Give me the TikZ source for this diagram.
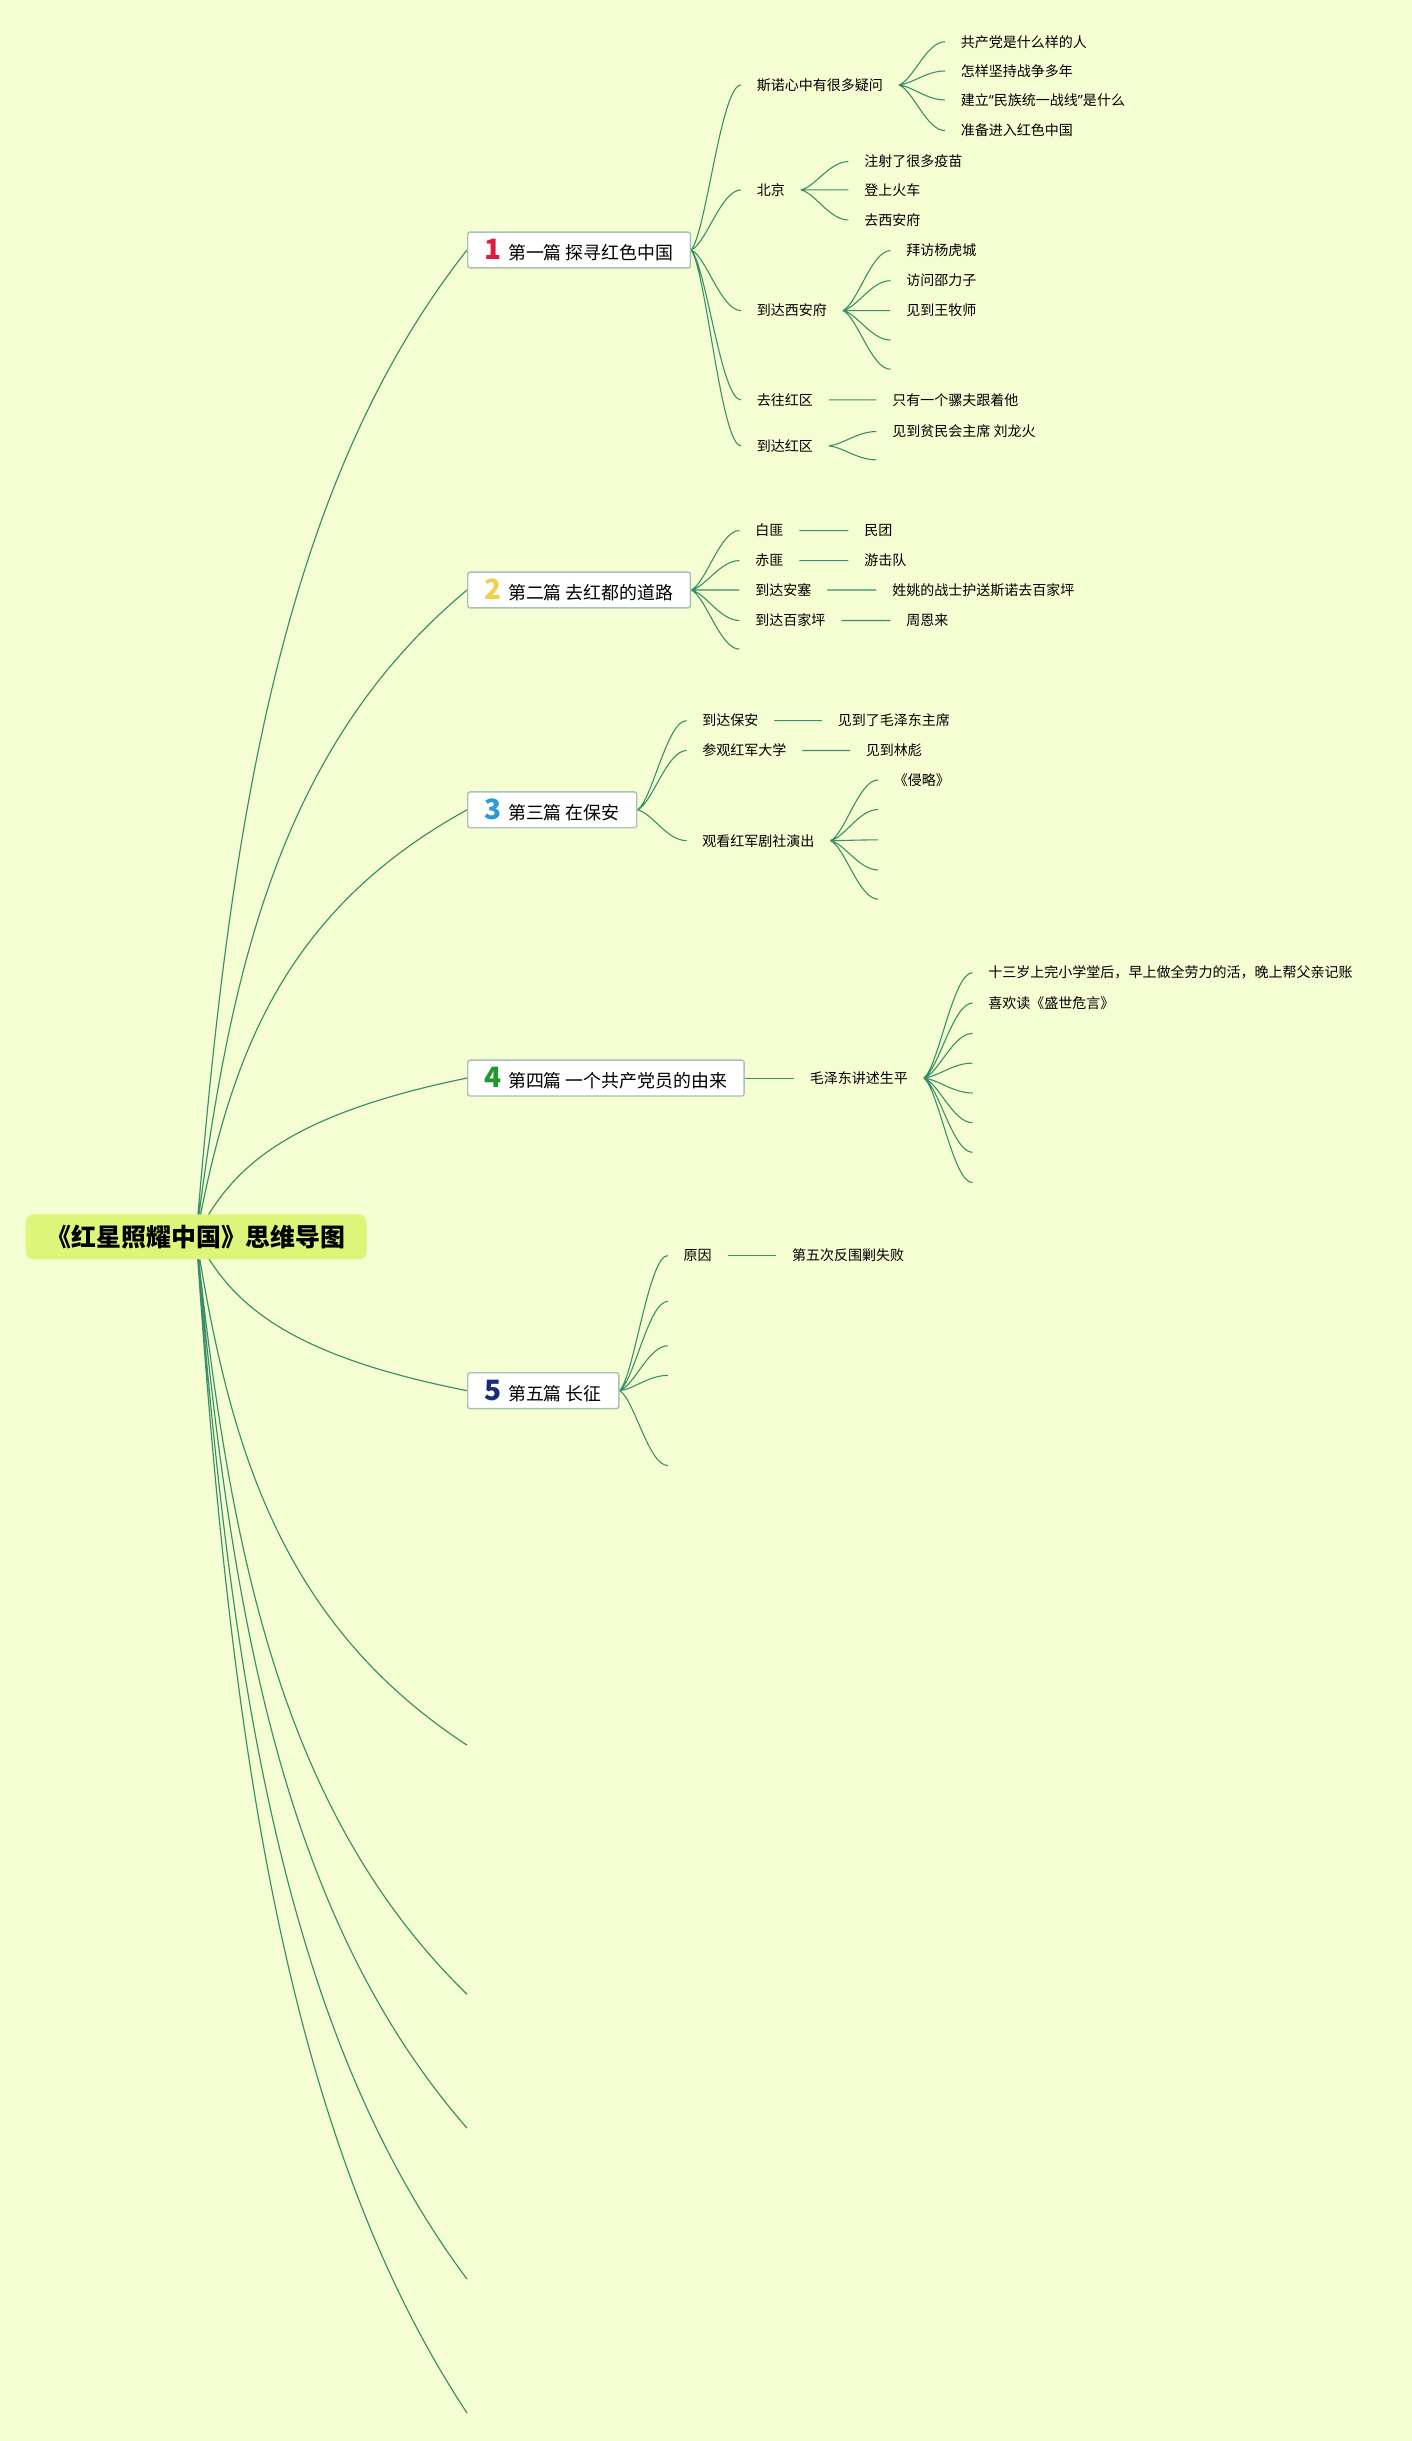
\documentclass[tikz,border=0pt]{standalone}
\usepackage{fontspec}
\setmainfont{Noto Sans CJK SC}
\newfontfamily\latinfont{Noto Sans}
\usetikzlibrary{calc}
\usetikzlibrary{backgrounds}

\begin{document}
\begin{tikzpicture}[line cap=round,line join=round,x=1pt,y=-1pt,
  trunk/.style={draw=3a8f68,line width=0.75pt,to path={let \p1=(\tikztostart),\p2=(\tikztotarget) in .. controls ({0.88*\x1+0.12*\x2},{0.6*\y1+0.4*\y2}) and ({0.7*\x1+0.3*\x2},{0.244*\y1+0.756*\y2}) .. (\p2)}},
  twig/.style={draw=3a8f68,line width=0.7pt,to path={let \p1=(\tikztostart),\p2=(\tikztotarget) in .. controls ({0.7*\x1+0.3*\x2},{0.9*\y1+0.1*\y2}) and ({0.4*\x1+0.6*\x2},\y2) .. (\p2)}},
  title/.style={fill=ddf578,rounded corners=5pt,minimum width=219pt,minimum height=29pt,inner sep=0pt,font=\fontsize{16}{16}\selectfont\bfseries},
  chap/.style={draw=a3c4b6,fill=white,line width=0.9pt,rounded corners=1.5pt,anchor=west,minimum height=23pt,inner xsep=11pt,inner ysep=0pt,font=\fontsize{11.5}{11.5}\selectfont},
  leaf/.style={anchor=west,inner xsep=10pt,inner ysep=2pt,font=\fontsize{9}{9}\selectfont}]
\definecolor{f5fdd2}{rgb}{0.961,0.992,0.824}
\definecolor{ddf578}{rgb}{0.867,0.961,0.471}
\definecolor{3a8f68}{rgb}{0.227,0.561,0.408}
\definecolor{a3c4b6}{rgb}{0.639,0.769,0.714}
\definecolor{dc1e3c}{rgb}{0.863,0.118,0.235}
\definecolor{f2d04a}{rgb}{0.949,0.816,0.29}
\definecolor{2a9ad8}{rgb}{0.165,0.604,0.847}
\definecolor{1c9a2c}{rgb}{0.11,0.604,0.173}
\definecolor{1c2a7c}{rgb}{0.11,0.165,0.486}
\clip(0,0) rectangle (907,1568);
\node[title] (root) at (126,794.5) {《红星照耀中国》思维导图};
\node[chap] (c1) at (300,160.6) {\textcolor{dc1e3c}{\fontsize{18}{18}\selectfont\bfseries 1}\hspace{4pt}第一篇 探寻红色中国};
\node[chap] (c2) at (300,379) {\textcolor{f2d04a}{\fontsize{18}{18}\selectfont\bfseries 2}\hspace{4pt}第二篇 去红都的道路};
\node[chap] (c3) at (300,520.2) {\textcolor{2a9ad8}{\fontsize{18}{18}\selectfont\bfseries 3}\hspace{4pt}第三篇 在保安};
\node[chap] (c4) at (300,692.5) {\textcolor{1c9a2c}{\fontsize{18}{18}\selectfont\bfseries 4}\hspace{4pt}第四篇 一个共产党员的由来};
\node[chap] (c5) at (300,893.3) {\textcolor{1c2a7c}{\fontsize{18}{18}\selectfont\bfseries 5}\hspace{4pt}第五篇 长征};
\coordinate (e6) at (300,1121);
\coordinate (e7) at (300,1281);
\coordinate (e8) at (300,1367);
\coordinate (e9) at (300,1464);
\coordinate (e10) at (300,1550);
\node[leaf] (s11) at (476,54.6) {斯诺心中有很多疑问};
\node[leaf] (s12) at (476,122) {北京};
\node[leaf] (s13) at (476,199.5) {到达西安府};
\node[leaf] (s14) at (476,256.9) {去往红区};
\node[leaf] (s15) at (476,286.4) {到达红区};
\node[leaf] (l111) at (607,26.8) {共产党是什么样的人};
\node[leaf] (l112) at (607,45.6) {怎样坚持战争多年};
\node[leaf] (l113) at (607,64.2) {建立{\latinfont “}民族统一战线{\latinfont ”}是什么};
\node[leaf] (l114) at (607,83.9) {准备进入红色中国};
\node[leaf] (l121) at (545,103.8) {注射了很多疫苗};
\node[leaf] (l122) at (545,122) {登上火车};
\node[leaf] (l123) at (545,141.3) {去西安府};
\node[leaf] (l131) at (572,161) {拜访杨虎城};
\node[leaf] (l132) at (572,180.3) {访问邵力子};
\node[leaf] (l133) at (572,199.5) {见到王牧师};
\coordinate (e134) at (572,218.4);
\coordinate (e135) at (572,237.2);
\node[leaf] (l141) at (563,256.9) {只有一个骡夫跟着他};
\node[leaf] (l151) at (563,277.2) {见到贫民会主席 刘龙火};
\coordinate (e152) at (563,295.4);
\node[leaf] (s21) at (475,340.8) {白匪};
\node[leaf] (s22) at (475,360.1) {赤匪};
\node[leaf] (s23) at (475,379) {到达安塞};
\node[leaf] (s24) at (475,398.6) {到达百家坪};
\coordinate (e25) at (475,417);
\node[leaf] (l211) at (545,340.8) {民团};
\node[leaf] (l221) at (545,360.1) {游击队};
\node[leaf] (l231) at (563,379) {姓姚的战士护送斯诺去百家坪};
\node[leaf] (l241) at (572,398.6) {周恩来};
\node[leaf] (s31) at (441,462.9) {到达保安};
\node[leaf] (s32) at (441,482.1) {参观红军大学};
\node[leaf] (s33) at (441,540) {观看红军剧社演出};
\node[leaf] (l311) at (528,462.9) {见到了毛泽东主席};
\node[leaf] (l321) at (546,482.1) {见到林彪};
\node[leaf] (l331) at (564,501) {《侵略》};
\coordinate (e332) at (564,520);
\coordinate (e333) at (564,539.5);
\coordinate (e334) at (564,558.8);
\coordinate (e335) at (564,577.6);
\node[leaf] (s41) at (510,692.5) {毛泽东讲述生平};
\node[leaf] (l411) at (624.7,624.8) {十三岁上完小学堂后，早上做全劳力的活，晚上帮父亲记账};
\node[leaf] (l412) at (624.7,644.3) {喜欢读《盛世危言》};
\coordinate (e413) at (624.7,663.8);
\coordinate (e414) at (624.7,682.9);
\coordinate (e415) at (624.7,702.1);
\coordinate (e416) at (624.7,721.2);
\coordinate (e417) at (624.7,740.2);
\coordinate (e418) at (624.7,759.7);
\node[leaf] (s51) at (429,806.5) {原因};
\coordinate (e52) at (429,835.9);
\coordinate (e53) at (429,864.5);
\coordinate (e54) at (429,883.5);
\coordinate (e55) at (429,941.4);
\node[leaf] (l511) at (498.6,806.5) {第五次反围剿失败};
\begin{scope}[on background layer]
\fill[f5fdd2] (0,0) rectangle (907,1568);
\draw[trunk] (root.center) to (c1.west) (root.center) to (c2.west) (root.center) to (c3.west) (root.center) to (c4.west) (root.center) to (c5.west);
\draw[trunk] (root.center) to (e6) (root.center) to (e7) (root.center) to (e8) (root.center) to (e9) (root.center) to (e10);
\draw[twig] (c1.east) to (s11.west) (c1.east) to (s12.west) (c1.east) to (s13.west) (c1.east) to (s14.west) (c1.east) to (s15.west);
\draw[twig] (s11.east) to (l111.west) (s11.east) to (l112.west) (s11.east) to (l113.west) (s11.east) to (l114.west);
\draw[twig] (s12.east) to (l121.west) (s12.east) to (l122.west) (s12.east) to (l123.west);
\draw[twig] (s13.east) to (l131.west) (s13.east) to (l132.west) (s13.east) to (l133.west) (s13.east) to (e134) (s13.east) to (e135);
\draw[twig] (s14.east) to (l141.west);
\draw[twig] (s15.east) to (l151.west) (s15.east) to (e152);
\draw[twig] (c2.east) to (s21.west) (c2.east) to (s22.west) (c2.east) to (s23.west) (c2.east) to (s24.west) (c2.east) to (e25);
\draw[twig] (s21.east) to (l211.west) (s22.east) to (l221.west) (s23.east) to (l231.west) (s24.east) to (l241.west);
\draw[twig] (c3.east) to (s31.west) (c3.east) to (s32.west) (c3.east) to (s33.west);
\draw[twig] (s31.east) to (l311.west) (s32.east) to (l321.west);
\draw[twig] (s33.east) to (l331.west) (s33.east) to (e332) (s33.east) to (e333) (s33.east) to (e334) (s33.east) to (e335);
\draw[twig] (c4.east) to (s41.west);
\draw[twig] (s41.east) to (l411.west) (s41.east) to (l412.west) (s41.east) to (e413) (s41.east) to (e414) (s41.east) to (e415) (s41.east) to (e416) (s41.east) to (e417) (s41.east) to (e418);
\draw[twig] (c5.east) to (s51.west) (c5.east) to (e52) (c5.east) to (e53) (c5.east) to (e54) (c5.east) to (e55);
\draw[twig] (s51.east) to (l511.west);
\end{scope}
\end{tikzpicture}
\end{document}
